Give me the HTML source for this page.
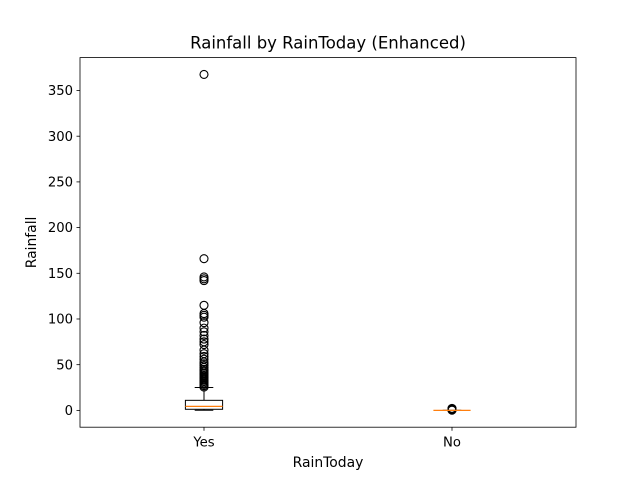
<!DOCTYPE html>
<html><head><meta charset="utf-8"><style>
body{margin:0;background:#fff}
svg text{font-family:"DejaVu Sans","Liberation Sans",sans-serif;fill:#000}
</style></head><body>
<svg width="640" height="480">
<g id="plot"></g>
</svg>
<script>
const categories=["Yes","No"];
const q1s=[1.2,0];
const medians=[4.4,0];
const q3s=[11,0];
const whiskLo=[0.2,0];
const whiskHi=[25,0];
const outliersYes=[25.5,27,28.5,30,31.5,33,34.5,36,37.5,39,40.5,42,43.5,45,47,49,51,53,56,59,62,66,72,75,78,82,86,90,96,102,104,106,115,142,144,146,166,367.6];
const outliersNo=[0.2,0.6,1,1.4,1.8,2.2];
const yTicks=[0,50,100,150,200,250,300,350];
const L=80,R=576,T=57.6,B=427.2,ymin=-18.4,ymax=386;
const sx=i=>L+(i+1-0.5)/2*(R-L);
const sy=v=>B-(v-ymin)/(ymax-ymin)*(B-T);
const g=document.getElementById('plot');
const NS='http://www.w3.org/2000/svg';
function mk(t,a,txt){const e=document.createElementNS(NS,t);for(const k in a)e.setAttribute(k,a[k]);if(txt!==undefined)e.textContent=txt;g.appendChild(e);return e;}
let e;
e=mk('rect',{x:L,y:T,width:R-L,height:B-T,fill:'none',stroke:'#000','stroke-width':0.8});

yTicks.forEach(v=>{const y=sy(v);
e=mk('line',{x1:L-3.5,x2:L,y1:y,y2:y,stroke:'#000','stroke-width':0.8});

e=mk('text',{x:L-7,y:y+4.6,'text-anchor':'end','font-size':13.2},v);
});
const hw=18.6;
categories.forEach((c,i)=>{const x=sx(i);
e=mk('line',{x1:x,x2:x,y1:B,y2:B+3.5,stroke:'#000','stroke-width':0.8});

e=mk('text',{x:x,y:B+19.5,'text-anchor':'middle','font-size':13.2},c);

const outs=i===0?outliersYes:outliersNo;
outs.forEach(v=>{e=mk('circle',{cx:x,cy:sy(v),r:4,fill:'none',stroke:'#000','stroke-width':1.1});
});
[[whiskLo[i],q1s[i]],[q3s[i],whiskHi[i]]].forEach(([a,b])=>{e=mk('line',{x1:x,x2:x,y1:sy(a),y2:sy(b),stroke:'#000','stroke-width':1});
});
[whiskLo[i],whiskHi[i]].forEach(v=>{e=mk('line',{x1:x-hw/2,x2:x+hw/2,y1:sy(v),y2:sy(v),stroke:'#000','stroke-width':1});
});
e=mk('rect',{x:x-hw,y:sy(q3s[i]),width:2*hw,height:sy(q1s[i])-sy(q3s[i]),fill:'none',stroke:'#000','stroke-width':1});

e=mk('line',{x1:x-hw,x2:x+hw,y1:sy(medians[i]),y2:sy(medians[i]),stroke:'#ff7f0e','stroke-width':1.2});
});
e=mk('text',{x:(L+R)/2,y:T-9,'text-anchor':'middle','font-size':16.5},'Rainfall by RainToday (Enhanced)');

e=mk('text',{x:(L+R)/2,y:467,'text-anchor':'middle','font-size':13.9},'RainToday');

e=mk('text',{x:0,y:0,'text-anchor':'middle','font-size':13.9,transform:'translate(36,'+((T+B)/2)+') rotate(-90)'},'Rainfall');

</script>
</body></html>
